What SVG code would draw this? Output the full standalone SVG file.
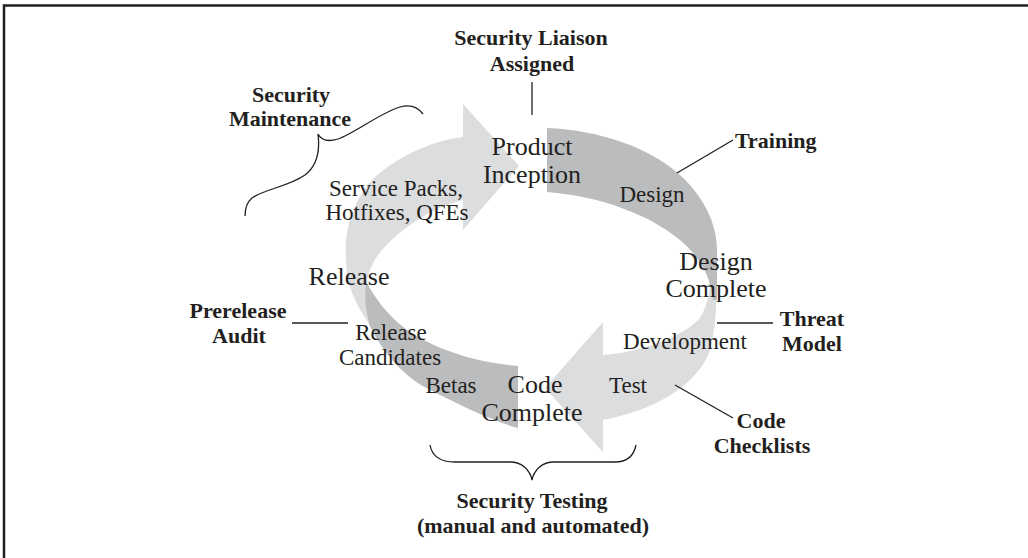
<svg xmlns="http://www.w3.org/2000/svg" width="1028" height="558" viewBox="0 0 1028 558">
<style>
.t{font-family:"Liberation Serif","Times New Roman",serif;fill:#231f20;text-anchor:middle}
.lg{font-size:26px}
.sm{font-size:23px}
.b{font-size:22px;font-weight:bold}
.ln{stroke:#231f20;stroke-width:1.3;fill:none}
.light{fill:#dcddde}
.dark{fill:#bbbcbe}
</style>
<rect width="1028" height="558" fill="#ffffff"/>
<path d="M4,558 L4,5.5 L1028,5.5" fill="none" stroke="#231f20" stroke-width="2.5"/>
<g id="cycle">
  <path id="arrow-release-to-inception-base" class="dark" d="M350,232 C348,300 380,365 430,390 C460,405 490,420 518,428 L518,366 C470,362 420,345 393,318 C370,295 355,265 350,232 Z"/>
  <path id="arrow-maintenance" class="light" d="M370,325 C356,305 346,285 346,260 C344,235 350,205 372,180 C395,158 430,141 463,137 L463,104 L519,166 L463,230 L463,200 C430,208 398,230 378,255 C364,275 362,300 370,325 Z"/>
  <path id="arrow-development" class="light" d="M712,255 C718,280 718,320 710,350 C698,385 655,410 603,420 L603,452 L545,388 L603,322 L603,355 C645,352 685,335 700,318 C708,305 712,285 712,255 Z"/>
  <path id="arrow-design" class="dark" d="M547,192 C600,196 650,215 680,240 C700,257 710,275 713,300 L717,300 L717,250 C717,225 705,198 680,175 C650,148 600,130 547,128 Z"/>
</g>
<g id="connectors">
  <line class="ln" x1="532" y1="82" x2="532" y2="115"/>
  <line class="ln" x1="677" y1="173" x2="733" y2="140"/>
  <line class="ln" x1="292" y1="323" x2="348" y2="323"/>
  <line class="ln" x1="717" y1="323" x2="773" y2="323"/>
  <line class="ln" x1="675" y1="385" x2="733" y2="418"/>
  <path class="ln" d="M423,114 C417,106 410,104 400,107 C380,113 355,133 338,139 C328,142 321,140 318,134 C320,150 318,165 305,175 C290,186 262,190 252,198 C246,203 245,210 245,216"/>
  <path class="ln" d="M430,445 C432,456 440,462 455,462 L510,462 C522,462 530,470 532,480 C534,470 542,462 554,462 L615,462 C628,462 634,455 636,445"/>
</g>
<g id="node-liaison"><text class="t b" x="531" y="45">Security Liaison</text><text class="t b" x="532" y="71">Assigned</text></g>
<g id="node-maintenance"><text class="t b" x="291" y="102">Security</text><text class="t b" x="290" y="126">Maintenance</text></g>
<g id="node-training"><text class="t b" x="735" y="148" style="text-anchor:start">Training</text></g>
<g id="node-inception"><text class="t lg" x="532" y="155">Product</text><text class="t lg" x="532" y="183">Inception</text></g>
<g id="node-design"><text class="t sm" x="652" y="202">Design</text></g>
<g id="node-servicepacks"><text class="t sm" x="396" y="196">Service Packs,</text><text class="t sm" x="397" y="220">Hotfixes, QFEs</text></g>
<g id="node-designcomplete"><text class="t lg" x="716" y="270">Design</text><text class="t lg" x="716" y="297">Complete</text></g>
<g id="node-release"><text class="t lg" x="349" y="285">Release</text></g>
<g id="node-prerelease"><text class="t b" x="238" y="318">Prerelease</text><text class="t b" x="239" y="343">Audit</text></g>
<g id="node-threat"><text class="t b" x="812" y="326">Threat</text><text class="t b" x="812" y="351">Model</text></g>
<g id="node-rc"><text class="t sm" x="391" y="340">Release</text><text class="t sm" x="390" y="365">Candidates</text></g>
<g id="node-development"><text class="t sm" x="685" y="349">Development</text></g>
<g id="node-codecomplete"><text class="t lg" x="535" y="393">Code</text><text class="t lg" x="532" y="421">Complete</text></g>
<g id="node-betas"><text class="t sm" x="451" y="393">Betas</text></g>
<g id="node-test"><text class="t sm" x="628" y="393">Test</text></g>
<g id="node-checklists"><text class="t b" x="761" y="428">Code</text><text class="t b" x="762" y="453">Checklists</text></g>
<g id="node-testing"><text class="t b" x="532" y="508">Security Testing</text><text class="t b" x="533" y="533">(manual and automated)</text></g>
</svg>
